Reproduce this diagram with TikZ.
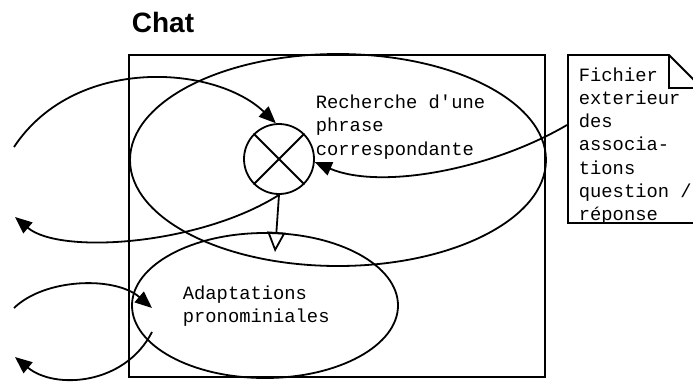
\documentclass[tikz,border=0pt]{standalone}
\usepackage{fontspec}
\setmonofont{Liberation Mono}
\newfontfamily\titlefont{Liberation Sans}
\usetikzlibrary{arrows.meta,shapes.geometric}
\begin{document}
\begin{tikzpicture}[x=1pt,y=-1pt, line width=1.8pt,
  lbl/.style={font=\ttfamily\fontsize{18.8}{23.3}\selectfont, align=left, anchor=north west, inner sep=0pt},
  oval/.style={draw, ellipse, inner sep=0pt},
  tip/.style={-{Triangle[length=17pt,width=14pt]}},
  opentip/.style={-{Triangle[open,length=20pt,width=18pt]}}]
\useasboundingbox (0,0) rectangle (693,381);
\node[font=\titlefont\bfseries\fontsize{28}{32}\selectfont, anchor=base west, inner sep=0pt] (title) at (131,32) {Chat};
\node[draw, rectangle, minimum width=416pt, minimum height=322pt, inner sep=0pt] (frame) at (337,216) {};
\node[oval, minimum width=416pt, minimum height=212pt] (top) at (338,160) {};
\node[oval, minimum width=266pt, minimum height=145pt] (bot) at (265,305.5) {};
\node[draw, circle, minimum size=70pt, inner sep=0pt] (c) at (279,159) {};
\draw (c.45) -- (c.225) (c.135) -- (c.-45);
% file document shape
\draw (568,55) -- (669,55) -- (702,88) -- (702,223) -- (568,223) -- cycle;
\draw (669,55) -- (669,88) -- (702,88);
% labels
\node[lbl] (t1) at (315,94) {Recherche d'une\\phrase\\correspondante};
\node[lbl] (t2) at (182,285) {Adaptations\\pronominiales};
\node[lbl] (t3) at (578,66.5) {Fichier\\exterieur\\des\\associa-\\tions\\question /\\réponse};
% connectors
\coordinate (a1s) at (14,147);
\draw[tip] (a1s) .. controls (75,55) and (215,65) .. (c.95);
\coordinate (a2e) at (15,217);
\draw[tip] (c.south) .. controls (200,245) and (60,255) .. (a2e);
\coordinate (a3e) at (275,252);
\draw[opentip] (c.south) -- (a3e);
\coordinate (fsrc) at (567,125);
\draw[tip] (fsrc) .. controls (490,170) and (380,190) .. (c.-5);
\coordinate (a5s) at (14,308);
\coordinate (a5e) at (152,308);
\draw[tip] (a5s) .. controls (45,278) and (115,276) .. (a5e);
\coordinate (a6s) at (152,332);
\coordinate (a6e) at (15,357);
\draw[tip] (a6s) .. controls (125,385) and (55,390) .. (a6e);
\end{tikzpicture}
\end{document}
